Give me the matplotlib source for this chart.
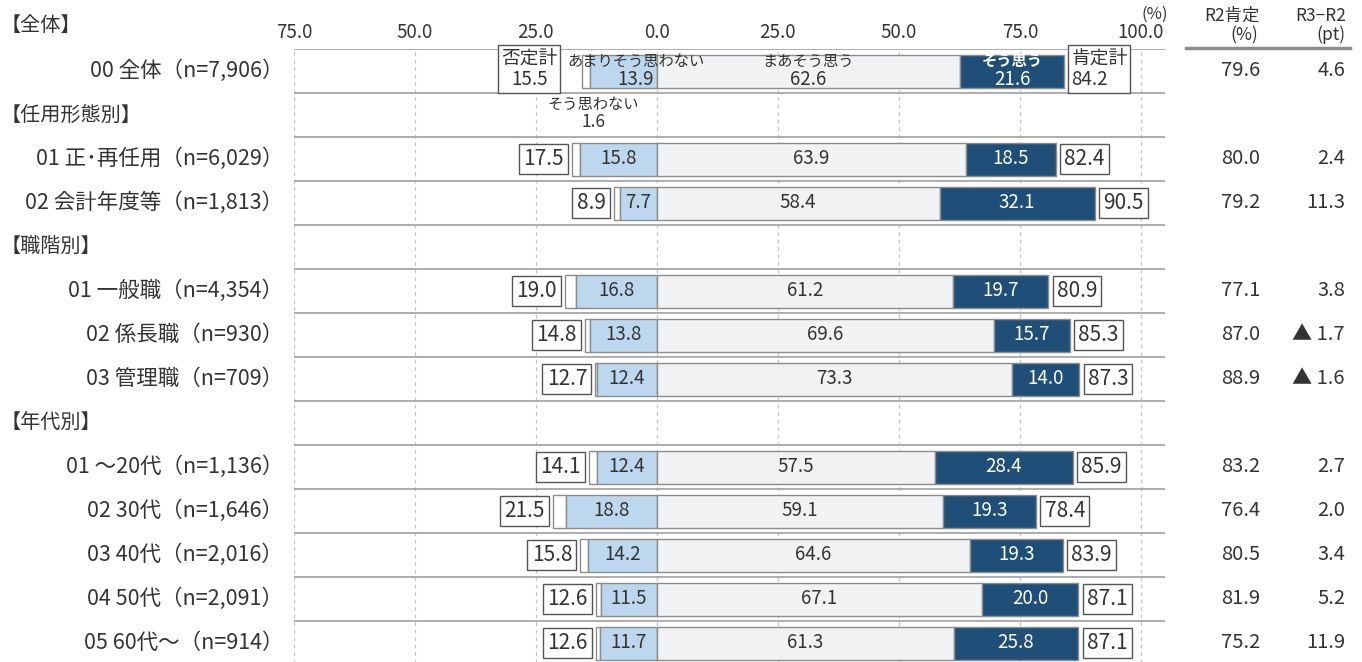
import matplotlib
matplotlib.use("Agg")
import matplotlib.pyplot as plt
from matplotlib.transforms import blended_transform_factory
from matplotlib.lines import Line2D

plt.rcParams['font.family'] = ['Noto Sans CJK JP', 'DejaVu Sans']

# ---- data -------------------------------------------------------------
rows = [
    "00 全体（n=7,906）",
    "【任用形態別】",
    "01 正･再任用（n=6,029）",
    "02 会計年度等（n=1,813）",
    "【職階別】",
    "01 一般職（n=4,354）",
    "02 係長職（n=930）",
    "03 管理職（n=709）",
    "【年代別】",
    "01 ～20代（n=1,136）",
    "02 30代（n=1,646）",
    "03 40代（n=2,016）",
    "04 50代（n=2,091）",
    "05 60代～（n=914）",
]

# values for the non-header rows, top to bottom
neg_total = [15.5, 17.5, 8.9, 19.0, 14.8, 12.7, 14.1, 21.5, 15.8, 12.6, 12.6]
somewhat_disagree = [13.9, 15.8, 7.7, 16.8, 13.8, 12.4, 12.4, 18.8, 14.2, 11.5, 11.7]
somewhat_agree = [62.6, 63.9, 58.4, 61.2, 69.6, 73.3, 57.5, 59.1, 64.6, 67.1, 61.3]
agree = [21.6, 18.5, 32.1, 19.7, 15.7, 14.0, 28.4, 19.3, 19.3, 20.0, 25.8]
pos_total = [84.2, 82.4, 90.5, 80.9, 85.3, 87.3, 85.9, 78.4, 83.9, 87.1, 87.1]
r2_positive = [79.6, 80.0, 79.2, 77.1, 87.0, 88.9, 83.2, 76.4, 80.5, 81.9, 75.2]
change_pt = [4.6, 2.4, 11.3, 3.8, -1.7, -1.6, 2.7, 2.0, 3.4, 5.2, 11.9]

tick_values = [-75, -50, -25, 0, 25, 50, 75, 100]
tick_labels = ["75.0", "50.0", "25.0", "0.0", "25.0", "50.0", "75.0", "100.0"]

# ---- style -------------------------------------------------------------
C_STRONG_NO = "#FFFFFF"
C_NO = "#BDD7EE"
C_YES = "#F1F2F4"
C_STRONG_YES = "#1F4E79"
EDGE = "#8C8C8C"
TXT = "#333333"

W, H = 1362, 662
fig = plt.figure(figsize=(W / 100, H / 100), dpi=100)
ax_left, ax_right, ax_top, ax_bot = 294, 1165, 49, 665
ax = fig.add_axes([ax_left / W, 1 - ax_bot / H,
                   (ax_right - ax_left) / W, (ax_bot - ax_top) / H])
ax.set_xlim(-75, 105)
ax.set_ylim(len(rows) - 0.5, -0.5)
for s in ax.spines.values():
    s.set_visible(False)
ax.xaxis.tick_top()
ax.set_xticks(tick_values)
ax.set_xticklabels(tick_labels, fontsize=13.5, color=TXT)
ax.tick_params(axis="x", length=0, pad=4)
ax.set_yticks([])

for xv in tick_values:
    ax.axvline(xv, color="#C4C4C4", lw=0.9, ls=(0, (3, 3)), zorder=0)
for k in range(len(rows)):
    ax.axhline(k - 0.5, color="#A6A6A6", lw=1.3, zorder=1)

data_rows = [i for i, r in enumerate(rows) if not r.startswith("【")]
lab_tr = blended_transform_factory(fig.transFigure, ax.transData)

VAL_FS = 13.5
BOX_FS = 15
bar_h = 0.75
for j, y in enumerate(data_rows):
    sd = somewhat_disagree[j]
    strong_no = neg_total[j] - sd
    sa = somewhat_agree[j]
    ag = agree[j]
    kw = dict(height=bar_h, edgecolor=EDGE, linewidth=1.0, zorder=3)
    ax.barh(y, strong_no, left=-neg_total[j], color=C_STRONG_NO, **kw)
    ax.barh(y, sd, left=-sd, color=C_NO, **kw)
    ax.barh(y, sa, left=0, color=C_YES, **kw)
    ax.barh(y, ag, left=sa, color=C_STRONG_YES, **kw)

    box = dict(boxstyle="square,pad=0.2", fc="white", ec="#555555", lw=1.0)
    if j == 0:
        ax.text(-4.3, y - 0.22, "あまりそう思わない", ha="center", va="center",
                fontsize=11, color=TXT, zorder=5)
        ax.text(-4.3, y + 0.2, f"{sd:.1f}", ha="center", va="center",
                fontsize=VAL_FS, color=TXT, zorder=5)
        ax.text(sa / 2, y - 0.22, "まあそう思う", ha="center", va="center",
                fontsize=11, color=TXT, zorder=5)
        ax.text(sa / 2, y + 0.2, f"{sa:.1f}", ha="center", va="center",
                fontsize=VAL_FS, color=TXT, zorder=5)
        ax.text(sa + ag / 2, y - 0.22, "そう思う", ha="center", va="center",
                fontsize=11, color="white", fontweight="bold", zorder=5)
        ax.text(sa + ag / 2, y + 0.2, f"{ag:.1f}", ha="center", va="center",
                fontsize=VAL_FS, color="white", zorder=5)
        ax.text(-26.35, y - 0.05, f"否定計\n{neg_total[j]:.1f}", ha="center",
                va="center", fontsize=13.5, color=TXT, linespacing=1.0,
                bbox=dict(boxstyle="square,pad=0.15", fc="white",
                          ec="#555555", lw=1.0), zorder=6)
        ax.annotate(f"肯定計\n{pos_total[j]:.1f}", xy=(sa + ag, y - 0.05),
                    xytext=(5, 0), textcoords="offset points", ha="left",
                    va="center", fontsize=13.5, color=TXT, linespacing=1.0,
                    bbox=dict(boxstyle="square,pad=0.15", fc="white",
                              ec="#555555", lw=1.0), zorder=6)
        # annotation for the thin "strongly disagree" segment
        ax.text(-13.2, y + 0.77, "そう思わない", ha="center", va="center",
                fontsize=11, color=TXT)
        ax.text(-13.2, y + 1.16, f"{strong_no:.1f}", ha="center", va="center",
                fontsize=12.5, color=TXT)
    else:
        ax.text(-sd / 2, y, f"{sd:.1f}", ha="center", va="center",
                fontsize=VAL_FS, color=TXT, zorder=5)
        ax.text(sa / 2, y, f"{sa:.1f}", ha="center", va="center",
                fontsize=VAL_FS, color=TXT, zorder=5)
        ax.text(sa + ag / 2, y, f"{ag:.1f}", ha="center", va="center",
                fontsize=VAL_FS, color="white", zorder=5)
        ax.annotate(f"{neg_total[j]:.1f}", xy=(-neg_total[j], y),
                    xytext=(-6, 0), textcoords="offset points", ha="right",
                    va="center", fontsize=BOX_FS, color=TXT, bbox=box, zorder=6)
        ax.annotate(f"{pos_total[j]:.1f}", xy=(sa + ag, y),
                    xytext=(6, 0), textcoords="offset points", ha="left",
                    va="center", fontsize=BOX_FS, color=TXT, bbox=box, zorder=6)

    # right-hand columns
    fig.text(1260 / W, y, f"{r2_positive[j]:.1f}", transform=lab_tr,
             ha="right", va="center", fontsize=14.5, color=TXT)
    c = change_pt[j]
    ctxt = f"▲ {abs(c):.1f}" if c < 0 else f"{c:.1f}"
    fig.text(1345 / W, y, ctxt, transform=lab_tr,
             ha="right", va="center", fontsize=14.5, color=TXT)

# row labels
for i, r in enumerate(rows):
    if r.startswith("【"):
        fig.text(1 / W, i, r, transform=lab_tr, ha="left", va="center",
                 fontsize=14.5, color=TXT)
    else:
        fig.text(283 / W, i, r, transform=lab_tr, ha="right", va="center",
                 fontsize=15.5, color=TXT)

fig.text(1 / W, 1 - 25 / H, "【全体】", ha="left", va="center",
         fontsize=14.5, color=TXT)
fig.text(1168 / W, 1 - 14 / H, "(%)", ha="right", va="center",
         fontsize=12, color=TXT)

# column headers on the right
HDR_FS = 12.5
fig.text(1260 / W, 1 - 16 / H, "R2肯定", ha="right", va="center",
         fontsize=HDR_FS, color=TXT)
fig.text(1258 / W, 1 - 35 / H, "(%)", ha="right", va="center",
         fontsize=HDR_FS, color=TXT)
fig.text(1346 / W, 1 - 16 / H, "R3−R2", ha="right", va="center",
         fontsize=HDR_FS, color=TXT)
fig.text(1346 / W, 1 - 35 / H, "(pt)", ha="right", va="center",
         fontsize=HDR_FS, color=TXT)
fig.add_artist(Line2D([1186 / W, 1350 / W], [1 - 48 / H, 1 - 48 / H],
                      color="#8C8C8C", lw=2.5))

fig.savefig("out.png", dpi=100)
